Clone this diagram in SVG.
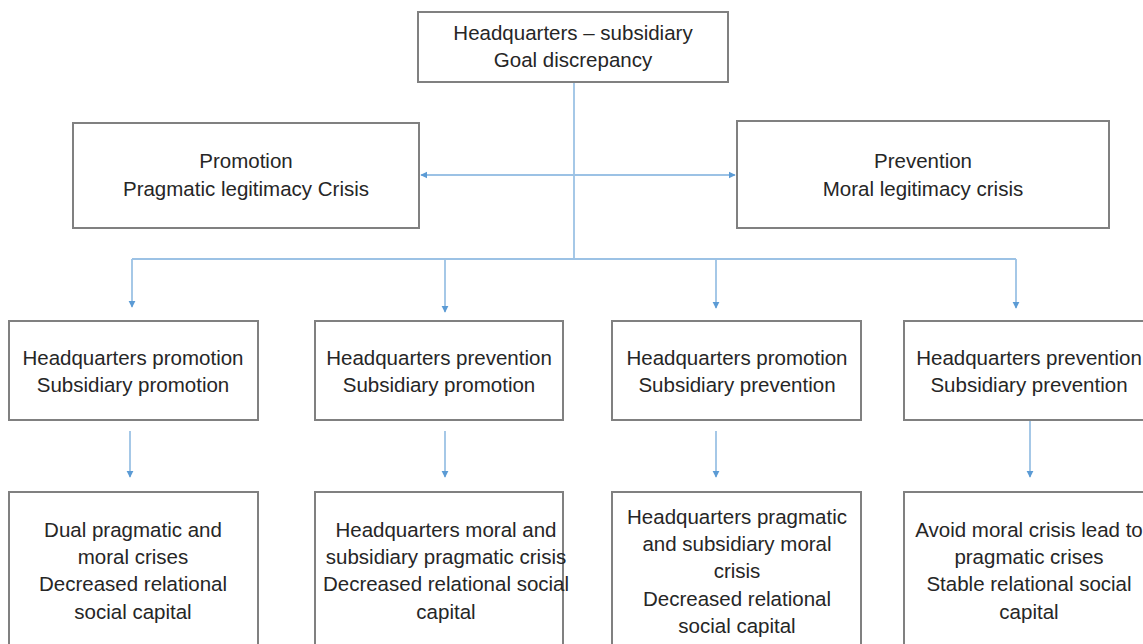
<svg xmlns="http://www.w3.org/2000/svg" width="1143" height="644" viewBox="0 0 1143 644">
<style>
.box{fill:#fff;stroke:#808080;stroke-width:2}
.t{font-family:"Liberation Sans",Arial,sans-serif;font-size:20.5px;fill:#262626;text-anchor:middle}
.c{fill:none;stroke:#9cc2e5;stroke-width:1.8}
</style>
<defs>
<marker id="ah" viewBox="0 0 10 10" refX="9" refY="5" markerWidth="4" markerHeight="4" orient="auto-start-reverse" markerUnits="strokeWidth">
<path d="M0,0 L10,5 L0,10 z" fill="#5b9bd5"/>
</marker>
</defs>
<rect width="1143" height="644" fill="#fff"/>
<g id="connectors">
<path class="c" d="M574,83 V259"/>
<path class="c" d="M421,175 H735" marker-start="url(#ah)" marker-end="url(#ah)"/>
<path class="c" d="M132,259 H1016"/>
<path class="c" d="M132,259 V307" marker-end="url(#ah)"/>
<path class="c" d="M445,259 V312" marker-end="url(#ah)"/>
<path class="c" d="M716,259 V308" marker-end="url(#ah)"/>
<path class="c" d="M1016,259 V308" marker-end="url(#ah)"/>
<path class="c" d="M130,431 V477" marker-end="url(#ah)"/>
<path class="c" d="M445,431 V477" marker-end="url(#ah)"/>
<path class="c" d="M716,431 V477" marker-end="url(#ah)"/>
<path class="c" d="M1030,421 V477" marker-end="url(#ah)"/>
</g>
<g id="top"><rect class="box" x="418" y="12" width="310" height="70"/>
<text class="t" x="573" y="40">Headquarters – subsidiary</text>
<text class="t" x="573" y="67">Goal discrepancy</text></g>
<g id="promotion"><rect class="box" x="73" y="123" width="346" height="105"/>
<text class="t" x="246" y="168">Promotion</text>
<text class="t" x="246" y="196">Pragmatic legitimacy Crisis</text></g>
<g id="prevention"><rect class="box" x="737" y="121" width="372" height="107"/>
<text class="t" x="923" y="168">Prevention</text>
<text class="t" x="923" y="196">Moral legitimacy crisis</text></g>
<g id="r1a"><rect class="box" x="9" y="321" width="249" height="99"/>
<text class="t" x="133" y="365">Headquarters promotion</text>
<text class="t" x="133" y="392">Subsidiary promotion</text></g>
<g id="r1b"><rect class="box" x="315" y="321" width="248" height="99"/>
<text class="t" x="439" y="365">Headquarters prevention</text>
<text class="t" x="439" y="392">Subsidiary promotion</text></g>
<g id="r1c"><rect class="box" x="612" y="321" width="249" height="99"/>
<text class="t" x="737" y="365">Headquarters promotion</text>
<text class="t" x="737" y="392">Subsidiary prevention</text></g>
<g id="r1d"><rect class="box" x="904" y="321" width="250" height="99"/>
<text class="t" x="1029" y="365">Headquarters prevention</text>
<text class="t" x="1029" y="392">Subsidiary prevention</text></g>
<g id="r2a"><rect class="box" x="9" y="492" width="249" height="170"/>
<text class="t" x="133" y="537">Dual pragmatic and</text>
<text class="t" x="133" y="564">moral crises</text>
<text class="t" x="133" y="591">Decreased relational</text>
<text class="t" x="133" y="619">social capital</text></g>
<g id="r2b"><rect class="box" x="315" y="492" width="248" height="170"/>
<text class="t" x="446" y="537">Headquarters moral and</text>
<text class="t" x="446" y="564">subsidiary pragmatic crisis</text>
<text class="t" x="446" y="591">Decreased relational social</text>
<text class="t" x="446" y="619">capital</text></g>
<g id="r2c"><rect class="box" x="612" y="492" width="249" height="170"/>
<text class="t" x="737" y="524">Headquarters pragmatic</text>
<text class="t" x="737" y="551">and subsidiary moral</text>
<text class="t" x="737" y="578">crisis</text>
<text class="t" x="737" y="606">Decreased relational</text>
<text class="t" x="737" y="633">social capital</text></g>
<g id="r2d"><rect class="box" x="904" y="492" width="250" height="170"/>
<text class="t" x="1029" y="537">Avoid moral crisis lead to</text>
<text class="t" x="1029" y="564">pragmatic crises</text>
<text class="t" x="1029" y="591">Stable relational social</text>
<text class="t" x="1029" y="619">capital</text></g>
</svg>
